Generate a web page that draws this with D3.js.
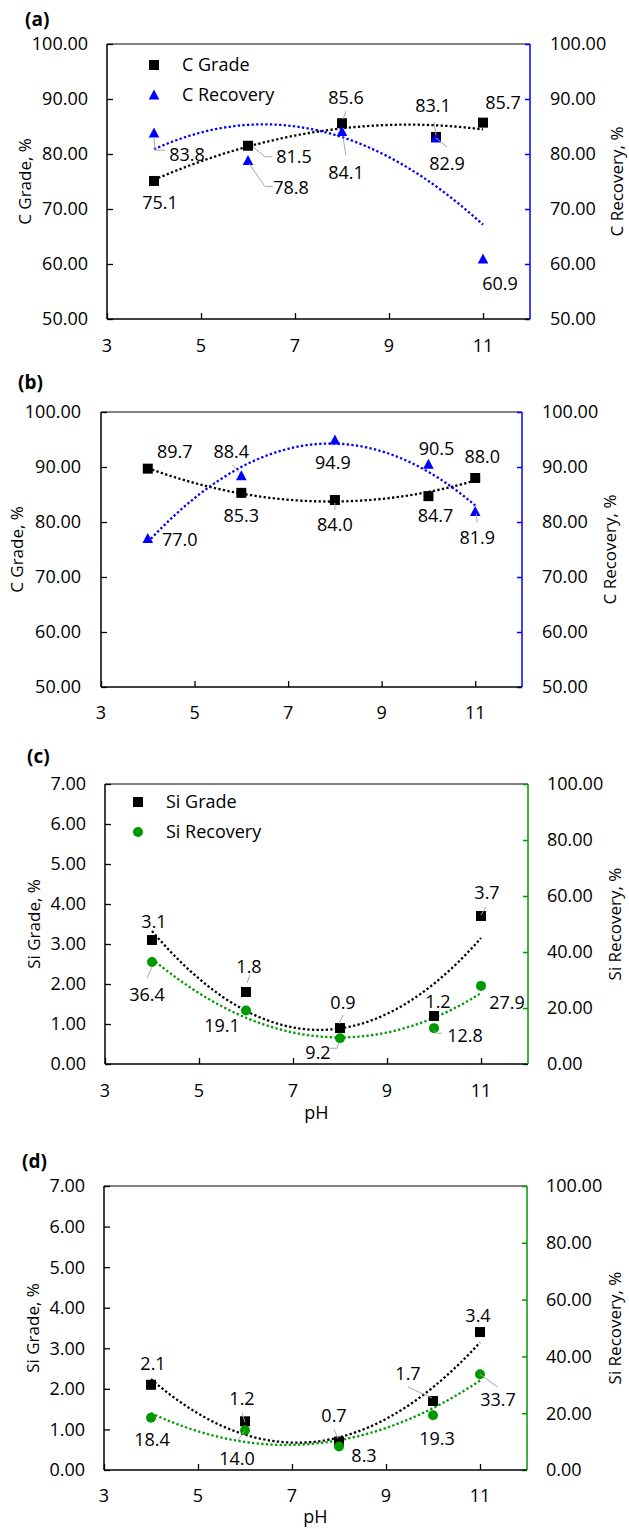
<!DOCTYPE html>
<html>
<head>
<meta charset="utf-8">
<script src="https://cdn.jsdelivr.net/npm/d3@7"></script>
<style>
  body { margin: 0; background: #fff; }
  text { font-family: "Open Sans", sans-serif; fill: #000; }
</style>
</head>
<body>
<svg id="chart" width="629" height="1529"></svg>
<script>
// pH values shared by every panel
const pH = [4, 6, 8, 10, 11];

// (a) and (b): carbon grade / recovery, %
const gradeA = [75.1, 81.5, 85.6, 83.1, 85.7];
const recovA = [83.8, 78.8, 84.1, 82.9, 60.9];
const gradeB = [89.7, 85.3, 84.0, 84.7, 88.0];
const recovB = [77.0, 88.4, 94.9, 90.5, 81.9];

// (c) and (d): silicon grade / recovery, %
const siGradeC = [3.1, 1.8, 0.9, 1.2, 3.7];
const siRecovC = [36.4, 19.1, 9.2, 12.8, 27.9];
const siGradeD = [2.1, 1.2, 0.7, 1.7, 3.4];
const siRecovD = [18.4, 14.0, 8.3, 19.3, 33.7];

// axis ticks
const xTicks = [3, 5, 7, 9, 11];
const cTicks = [50, 60, 70, 80, 90, 100];
const siGradeTicks = [0, 1, 2, 3, 4, 5, 6, 7];
const siRecovTicks = [0, 20, 40, 60, 80, 100];

const BLUE = '#0000ff';
const GREEN = '#009900';
const LEADER = '#a6a6a6';

// label placement relative to the point: [dx, dy, leader polyline]
const labelsA = {
    grade: [[6, 22], [46, 11, [[5, 1], [17, 11], [24, 11]]], [4, -26, [[4, -12], [1, -4]]],
            [-3, -31, [[-2, -15], [0, -2]]], [20, -20]],
    recov: [[33, 21, [[0, 4], [1, 17], [11, 17]]], [43, 27, [[1, 3], [17, 26], [25, 26]]],
            [4, 41, [[1, 6], [4, 24]]], [11, 25, [[0, 0], [11, 9]]], [17, 24]]
};
const labelsB = {
    grade: [[27, -17], [0, 23], [0, 25, [[0, 3], [0, 10]]], [7, 19], [7, -21]],
    recov: [[32, 1], [-10, -24, [[-9, -11], [-2, -3]]], [-2, 22], [8, -16], [2, 26, [[1, 2], [2, 11]]]]
};
const labelsC = {
    grade: [[2, -18], [3, -25, [[1, -9], [4, -17]]], [3, -25, [[-1, -4], [3, -13]]], [4, -14],
            [6, -23, [[0, -1], [5, -9]]]],
    recov: [[-5, 32, [[0, 5], [-5, 16]]], [-24, 15], [-22, 14, [[-1, 4], [-3, 10], [-10, 10]]],
            [31, 7, [[0, 2], [2, 5], [8, 5]]], [26, 17]]
};
const labelsD = {
    grade: [[2, -21], [-3, -23, [[-3, -9], [0, 1]]], [-5, -26, [[-5, -12], [-1, -3]]],
            [-25, -28, [[-25, -14], [-1, -3]]], [-2, -17]],
    recov: [[1, 22], [-8, 28, [[0, 0], [-7, 10]]], [25, 9], [4, 23], [18, 25, [[0, 0], [18, 13]]]]
};

const panels = [
    {
        title: '(a)', grade: gradeA, recov: recovA, labels: labelsA,
        leftTitle: 'C Grade, %', rightTitle: 'C Recovery, %',
        leftDomain: [50, 100], rightDomain: [50, 100], leftTicks: cTicks, rightTicks: cTicks,
        color: BLUE, shape: 'triangle', legend: ['C Grade', 'C Recovery'],
        box: { left: 107, right: 530, top: 44, bottom: 319 },
        pos: { titleX: 25, titleY: 19, leftLab: 88, rightLab: 550, xLab: 346, leftTitle: 25, rightTitle: 617 },
        legendPos: { x: 154, y: 65, tx: 182 }
    },
    {
        title: '(b)', grade: gradeB, recov: recovB, labels: labelsB,
        leftTitle: 'C Grade, %', rightTitle: 'C Recovery, %',
        leftDomain: [50, 100], rightDomain: [50, 100], leftTicks: cTicks, rightTicks: cTicks,
        color: BLUE, shape: 'triangle',
        box: { left: 101, right: 522, top: 412, bottom: 687 },
        pos: { titleX: 18, titleY: 382, leftLab: 81, rightLab: 542, xLab: 713, leftTitle: 17, rightTitle: 610 }
    },
    {
        title: '(c)', grade: siGradeC, recov: siRecovC, labels: labelsC,
        leftTitle: 'Si Grade, %', rightTitle: 'Si Recovery, %',
        leftDomain: [0, 7], rightDomain: [0, 100], leftTicks: siGradeTicks, rightTicks: siRecovTicks,
        color: GREEN, shape: 'circle', legend: ['Si Grade', 'Si Recovery'], xTitle: 'pH',
        box: { left: 105, right: 528, top: 784, bottom: 1064 },
        pos: { titleX: 27, titleY: 756, leftLab: 86, rightLab: 547, xLab: 1091, xTitle: 1113, leftTitle: 34, rightTitle: 615 },
        legendPos: { x: 138, y: 802, tx: 166 }
    },
    {
        title: '(d)', grade: siGradeD, recov: siRecovD, labels: labelsD,
        leftTitle: 'Si Grade, %', rightTitle: 'Si Recovery, %',
        leftDomain: [0, 7], rightDomain: [0, 100], leftTicks: siGradeTicks, rightTicks: siRecovTicks,
        color: GREEN, shape: 'circle', xTitle: 'pH',
        box: { left: 104, right: 527, top: 1186, bottom: 1470 },
        pos: { titleX: 22, titleY: 1161, leftLab: 85, rightLab: 546, xLab: 1496, xTitle: 1517, leftTitle: 33, rightTitle: 615 }
    }
];

// least squares fit of order 2, like the spreadsheet trendline
function quadFit(xs, ys) {
    const s = [0, 0, 0, 0, 0], t = [0, 0, 0];
    xs.forEach((x, i) => {
        for (let k = 0; k < 5; k++) s[k] += Math.pow(x, k);
        for (let k = 0; k < 3; k++) t[k] += ys[i] * Math.pow(x, k);
    });
    const m = [[s[0], s[1], s[2], t[0]], [s[1], s[2], s[3], t[1]], [s[2], s[3], s[4], t[2]]];
    for (let c = 0; c < 3; c++) {
        for (let r = c + 1; r < 3; r++) {
            const f = m[r][c] / m[c][c];
            for (let k = c; k < 4; k++) m[r][k] -= f * m[c][k];
        }
    }
    const b = [0, 0, 0];
    for (let r = 2; r >= 0; r--) {
        let v = m[r][3];
        for (let k = r + 1; k < 3; k++) v -= m[r][k] * b[k];
        b[r] = v / m[r][r];
    }
    return x => b[0] + b[1] * x + b[2] * x * x;
}

const svg = d3.select('#chart');
svg.append('rect').attr('width', 629).attr('height', 1529).attr('fill', '#fff');

const fmtAxis = d3.format('.2f');
const fmtLabel = d3.format('.1f');
const FS = 18;

function marker(g, shape, x, y, color) {
    if (shape === 'square') {
        g.append('rect').attr('x', x - 5).attr('y', y - 5).attr('width', 10).attr('height', 10)
            .attr('fill', color);
    } else if (shape === 'triangle') {
        g.append('path').attr('d', `M${x},${y - 5.5}L${x + 5.3},${y + 4.5}L${x - 5.3},${y + 4.5}Z`)
            .attr('fill', color);
    } else {
        g.append('circle').attr('cx', x).attr('cy', y).attr('r', 5).attr('fill', color);
    }
}

function drawPanel(p) {
    const b = p.box, pos = p.pos;
    const g = svg.append('g');

    const x = d3.scaleLinear().domain([3, 12]).range([b.left, b.right]);
    const yL = d3.scaleLinear().domain(p.leftDomain).range([b.bottom, b.top]);
    const yR = d3.scaleLinear().domain(p.rightDomain).range([b.bottom, b.top]);

    // panel letter
    g.append('text').attr('x', pos.titleX).attr('y', pos.titleY).attr('dy', '0.36em')
        .style('font-size', '19px').style('font-weight', 'bold').text(p.title);

    // plot frame top
    g.append('line').attr('x1', b.left).attr('x2', b.right).attr('y1', b.top).attr('y2', b.top)
        .attr('stroke', '#595959').attr('stroke-width', 1.5);

    // axes, ticks pointing inward
    const bottomAxis = d3.axisTop(x).tickValues(xTicks).tickSize(6).tickFormat('');
    g.append('g').attr('transform', `translate(0,${b.bottom})`).call(bottomAxis)
        .call(a => a.select('.domain').remove());
    const leftAxis = d3.axisRight(yL).tickValues(p.leftTicks).tickSize(6).tickFormat('');
    g.append('g').attr('transform', `translate(${b.left},0)`).call(leftAxis)
        .call(a => a.select('.domain').remove());
    const rightAxis = d3.axisLeft(yR).tickValues(p.rightTicks).tickSize(5).tickFormat('');
    g.append('g').attr('transform', `translate(${b.right},0)`).call(rightAxis)
        .call(a => a.select('.domain').remove())
        .call(a => a.selectAll('line').attr('stroke', p.color).attr('stroke-width', 1.5));
    g.selectAll('.tick line').filter(function () { return d3.select(this).attr('stroke') !== p.color; })
        .attr('stroke', '#000').attr('stroke-width', 1.3);

    g.append('line').attr('x1', b.left).attr('x2', b.left).attr('y1', b.top).attr('y2', b.bottom)
        .attr('stroke', '#000').attr('stroke-width', 1.5);
    g.append('line').attr('x1', b.left).attr('x2', b.right).attr('y1', b.bottom).attr('y2', b.bottom)
        .attr('stroke', '#000').attr('stroke-width', 1.5);
    g.append('line').attr('x1', b.right).attr('x2', b.right).attr('y1', b.top).attr('y2', b.bottom)
        .attr('stroke', p.color).attr('stroke-width', 1.5);

    // tick labels
    g.selectAll('.xl').data(xTicks).join('text')
        .attr('x', d => x(d)).attr('y', pos.xLab).attr('dy', '0.36em')
        .attr('text-anchor', 'middle').style('font-size', FS + 'px').text(d => d);
    g.selectAll('.ll').data(p.leftTicks).join('text')
        .attr('x', pos.leftLab).attr('y', d => yL(d)).attr('dy', '0.36em')
        .attr('text-anchor', 'end').style('font-size', FS + 'px').text(fmtAxis);
    g.selectAll('.rl').data(p.rightTicks).join('text')
        .attr('x', pos.rightLab).attr('y', d => yR(d)).attr('dy', '0.36em')
        .attr('text-anchor', 'start').style('font-size', FS + 'px').text(fmtAxis);

    // axis titles
    g.append('text').attr('transform', `translate(${pos.leftTitle},${(b.top + b.bottom) / 2}) rotate(-90)`)
        .attr('dy', '0.36em').attr('text-anchor', 'middle').style('font-size', '17px').text(p.leftTitle);
    g.append('text').attr('transform', `translate(${pos.rightTitle},${(b.top + b.bottom) / 2}) rotate(-90)`)
        .attr('dy', '0.36em').attr('text-anchor', 'middle').style('font-size', '17px').text(p.rightTitle);
    if (p.xTitle) {
        g.append('text').attr('x', (b.left + b.right) / 2).attr('y', pos.xTitle).attr('dy', '0.36em')
            .attr('text-anchor', 'middle').style('font-size', FS + 'px').text(p.xTitle);
    }

    // trendlines
    const xs = d3.range(4, 11.001, 0.1);
    const series = [
        { values: p.grade, y: yL, color: '#000', shape: 'square', labels: p.labels.grade },
        { values: p.recov, y: yR, color: p.color, shape: p.shape, labels: p.labels.recov }
    ];
    series.forEach(s => {
        const f = quadFit(pH, s.values);
        g.append('path').datum(xs)
            .attr('d', d3.line().x(d => x(d)).y(d => s.y(f(d))))
            .attr('fill', 'none').attr('stroke', s.color).attr('stroke-width', 2.3)
            .attr('stroke-dasharray', '2.3,2.3');
    });
    series.forEach(s => {
        s.values.forEach((v, i) => marker(g, s.shape, x(pH[i]), s.y(v), s.color));
    });

    // leader lines and data labels
    series.forEach(s => {
        s.values.forEach((v, i) => {
            const px = x(pH[i]), py = s.y(v);
            const lab = s.labels[i];
            if (lab[2]) {
                g.append('path').datum(lab[2])
                    .attr('d', d3.line().x(d => px + d[0]).y(d => py + d[1]))
                    .attr('fill', 'none').attr('stroke', LEADER).attr('stroke-width', 1);
            }
            g.append('text').attr('x', px + lab[0]).attr('y', py + lab[1]).attr('dy', '0.36em')
                .attr('text-anchor', 'middle').style('font-size', FS + 'px').text(fmtLabel(v));
        });
    });

    // legend
    if (p.legend) {
        const lp = p.legendPos;
        marker(g, 'square', lp.x, lp.y, '#000');
        marker(g, p.shape, lp.x, lp.y + 30, p.color);
        p.legend.forEach((t, i) => {
            g.append('text').attr('x', lp.tx).attr('y', lp.y + i * 30).attr('dy', '0.36em')
                .style('font-size', FS + 'px').text(t);
        });
    }
}

panels.forEach(drawPanel);
</script>
</body>
</html>
